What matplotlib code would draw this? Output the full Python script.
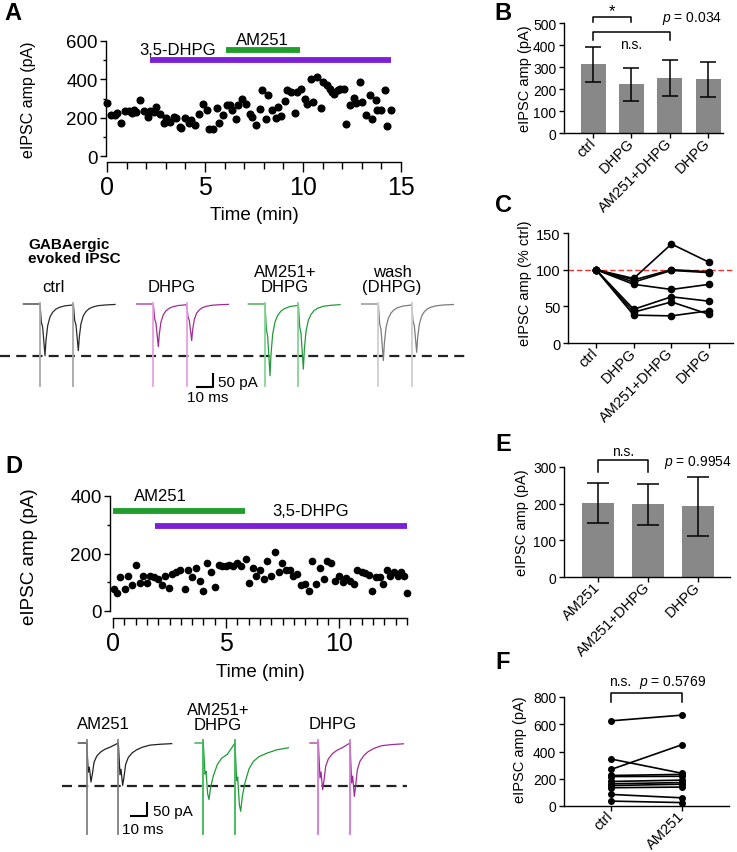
import numpy as np
import matplotlib.pyplot as plt
from matplotlib.ticker import MultipleLocator

plt.rcParams['font.family'] = ['Liberation Sans', 'DejaVu Sans']
plt.rcParams['mathtext.fontset'] = 'custom'
plt.rcParams['mathtext.it'] = 'Liberation Sans:italic'
plt.rcParams['mathtext.rm'] = 'Liberation Sans'
plt.rcParams['axes.linewidth'] = 1.0

# ---- panel A: time course (min, pA)
A_TIME = [0.0, 0.2, 0.4, 0.5, 0.7, 0.9, 1.1, 1.3, 1.4, 1.5, 1.7, 1.9, 2.1, 2.2, 2.4, 2.5, 2.7, 2.9, 3.0, 3.2,
          3.4, 3.5, 3.7, 3.8, 4.0, 4.2, 4.3, 4.5, 4.7, 4.9, 5.1, 5.2, 5.4, 5.6, 5.7, 5.9, 6.1, 6.3, 6.4, 6.6,
          6.7, 6.9, 7.1, 7.3, 7.4, 7.6, 7.8, 7.9, 8.1, 8.2, 8.4, 8.6, 8.7, 8.9, 9.1, 9.2, 9.4, 9.6, 9.7, 9.9,
          10.1, 10.2, 10.4, 10.5, 10.7, 10.9, 11.0, 11.2, 11.4, 11.5, 11.6, 11.8, 11.9, 12.1, 12.2, 12.4, 12.6,
          12.7, 12.9, 13.0, 13.2, 13.4, 13.5, 13.7, 13.8, 14.0, 14.2, 14.3, 14.5]
A_AMP = [278, 212, 214, 222, 170, 233, 233, 226, 238, 231, 292, 233, 205, 233, 229, 256, 217, 170, 200, 177,
         205, 200, 153, 144, 200, 170, 188, 163, 221, 270, 238, 139, 143, 250, 174, 212, 266, 264, 240, 191,
         264, 299, 270, 217, 205, 162, 243, 343, 191, 318, 238, 197, 257, 209, 287, 343, 334, 223, 334, 348,
         296, 270, 400, 283, 414, 252, 388, 370, 348, 334, 325, 345, 348, 351, 165, 264, 304, 278, 386, 283,
         212, 317, 195, 292, 238, 238, 345, 157, 240]
A_DHPG_ON = (2.2, 14.5)
A_AM251_ON = (6.05, 9.85)

# ---- panel D: time course
D_TIME = [0.03, 0.18, 0.32, 0.52, 0.66, 0.84, 1.0, 1.18, 1.33, 1.5, 1.65, 1.8, 1.99, 2.17, 2.32, 2.48, 2.63,
          2.8, 2.98, 3.17, 3.32, 3.5, 3.66, 3.83, 4.0, 4.17, 4.32, 4.5, 4.68, 4.82, 4.99, 5.13, 5.3, 5.49, 5.65,
          5.86, 6.0, 6.17, 6.34, 6.49, 6.67, 6.81, 7.0, 7.15, 7.33, 7.49, 7.67, 7.82, 7.96, 8.14, 8.3, 8.48,
          8.66, 8.81, 8.97, 9.14, 9.32, 9.47, 9.63, 9.81, 9.99, 10.15, 10.32, 10.47, 10.65, 10.81, 10.99,
          11.14, 11.31, 11.46, 11.62, 11.8, 11.95, 12.12, 12.27, 12.43, 12.61, 12.73, 12.86, 13.0]
D_AMP = [77, 63, 118, 77, 123, 89, 160, 98, 123, 98, 123, 118, 112, 91, 123, 80, 129, 137, 141, 77,
         141, 118, 149, 104, 68, 166, 137, 85, 161, 155, 158, 160, 155, 166, 158, 181, 97, 149, 123, 141,
         110, 175, 123, 206, 135, 166, 144, 141, 123, 129, 89, 95, 69, 173, 95, 149, 110, 173, 167, 104,
         121, 100, 114, 103, 95, 143, 135, 131, 126, 71, 118, 118, 95, 143, 123, 137, 123, 137, 123, 62]
D_AM251_ON = (0.0, 5.83)
D_DHPG_ON = (1.84, 13.0)

# ---- panel B / E bars
B_CATS = ['ctrl', 'DHPG', 'AM251+DHPG', 'DHPG']
B_MEAN = [312, 221, 250, 244]
B_SEM = [78, 76, 80, 79]
E_CATS = ['AM251', 'AM251+DHPG', 'DHPG']
E_MEAN = [202, 198, 193]
E_SEM = [55, 57, 81]

# ---- panel C normalized cells (% ctrl)
C_CATS = ['ctrl', 'DHPG', 'AM251+DHPG', 'DHPG']
C_CELLS = [[100, 88, 135, 110],
           [100, 86, 100, 97],
           [100, 83, 99, 96],
           [100, 80, 73, 80],
           [100, 46, 63, 57],
           [100, 42, 56, 39],
           [100, 38, 37, 44]]

# ---- panel F paired
F_CATS = ['ctrl', 'AM251']
F_CTRL = [625, 345, 268, 224, 216, 180, 163, 150, 134, 85, 36]
F_AM251 = [667, 240, 450, 232, 218, 190, 172, 160, 139, 60, 25]

# ---- example traces (ms, pA); IPSC shape
A_SHAPE_MS = [0, 0.8, 1.6, 3.0, 3.6, 4.6, 6.0, 7.6, 9.5, 11.6, 15, 19.5, 25, 32, 40]
A_SHAPE_FRAC = [0, 0.35, 0.45, 1.0, 0.70, 0.42, 0.25, 0.16, 0.10, 0.065, 0.035, 0.02, 0.01, 0.005, 0.0]
D_SHAPE_MS = [0, 1.0, 1.6, 2.6, 3.4, 4.4, 6, 8.4, 11, 14.4, 19, 25, 32, 40]
D_SHAPE_FAST = [0, 0.75, 0.62, 1.0, 0.8, 0.5, 0.34, 0.23, 0.16, 0.1, 0.05, 0.03, 0.015, 0.005]
D_SHAPE_SLOW = [0, 0.55, 0.5, 0.9, 1.0, 0.78, 0.58, 0.38, 0.27, 0.2, 0.15, 0.1, 0.07, 0.05]

A_TRACE_LABELS = ['ctrl', 'DHPG', 'AM251+\nDHPG', 'wash\n(DHPG)']
A_LABEL_X = [53, 172, 285, 392]
A_TRACE_ART_MS = [24, 92, 159, 227]
A_TRACE_P1 = [194, 160, 269, 212]
A_TRACE_P2 = [175, 137, 244, 181]
A_TRACE_COLORS = ['#2a2a2a', '#a02c98', '#239a3a', '#7c7c7c']
A_ART_COLORS = ['#a8a8a8', '#e6a0e2', '#86d494', '#cfcfcf']

D_TRACE_LABELS = ['AM251', 'AM251+\nDHPG', 'DHPG']
D_LABEL_X = [103, 218, 333]
D_TRACE_ART_MS = [52, 122, 191]
D_TRACE_P1 = [146, 212, 175]
D_TRACE_P2 = [159, 256, 200]
D_TRACE_SLOW = [False, True, False]
D_TRACE_COLORS = ['#222222', '#1e9a34', '#a02c98']
D_ART_COLORS = ['#808080', '#3cb854', '#d27ad0']

PURPLE = '#7d1fd6'
GREEN = '#1f9e2c'
BAR_GRAY = '#888888'

W, H = 737, 853
fig = plt.figure(figsize=(W / 100, H / 100), dpi=100)


def px_axes(x0, y0, x1, y1):
    return fig.add_axes([x0 / W, 1 - y1 / H, (x1 - x0) / W, (y1 - y0) / H])


def px_text(x, y, s, **kw):
    kw.setdefault('ha', 'center')
    kw.setdefault('va', 'center')
    fig.text(x / W, 1 - y / H, s, **kw)


def time_axes(ax, xmax, ymax, xminor, left_off, bottom_off):
    for s in ['top', 'right']:
        ax.spines[s].set_visible(False)
    ax.spines['left'].set_position(('outward', left_off))
    ax.spines['bottom'].set_position(('outward', bottom_off))
    ax.set_xlim(0, xmax)
    ax.set_ylim(0, ymax)
    ax.xaxis.set_major_locator(MultipleLocator(5))
    ax.xaxis.set_minor_locator(MultipleLocator(xminor))
    ax.yaxis.set_major_locator(MultipleLocator(200))
    ax.yaxis.set_minor_locator(MultipleLocator(100))
    ax.tick_params(axis='x', which='major', length=7.5, width=1, labelsize=18, pad=2)
    ax.tick_params(axis='x', which='minor', length=5, width=1)
    ax.tick_params(axis='y', which='major', length=4, width=1, labelsize=13.5, pad=2)
    ax.tick_params(axis='y', which='minor', length=2.5, width=1)
    ax.patch.set_alpha(0)


def right_axes(ax, xlim, ylim, ystep, cats):
    for s in ['top', 'right']:
        ax.spines[s].set_visible(False)
    ax.set_xlim(*xlim)
    ax.set_ylim(*ylim)
    ax.yaxis.set_major_locator(MultipleLocator(ystep))
    ax.set_xticks(range(len(cats)))
    ax.set_xticklabels(cats, rotation=45, ha='right', va='center', rotation_mode='anchor')
    ax.tick_params(length=3.5, width=1, labelsize=10, pad=2)
    ax.tick_params(axis='x', pad=2, labelsize=10.5)
    ax.patch.set_alpha(0)


def bracket(ax, x0, x1, y_top, y_leg):
    ax.plot([x0, x0, x1, x1], [y_leg, y_top, y_top, y_leg], color='black', lw=1.1, clip_on=False)


def draw_trace(ax, t_art, p1, p2, gap, pre, post, shape_ms, shape_frac, color, art_color, art_top, art_bot):
    t = [t_art - pre, t_art]
    v = [0, 0]
    for k, (t0, amp) in enumerate([(t_art, p1), (t_art + gap, p2)]):
        limit = gap - 0.3 if k == 0 else post - gap
        for s, f in zip(shape_ms, shape_frac):
            if s <= limit:
                t.append(t0 + s)
                v.append(-amp * f)
    ax.plot(t, v, color=color, lw=0.9, zorder=2)
    for t0 in (t_art, t_art + gap):
        ax.plot([t0, t0], [art_top, art_bot], color=art_color, lw=1.3, zorder=3)


# ================= Panel A time course
ax = px_axes(107, 42, 401, 157)
time_axes(ax, 15, 600, 1, 0.5, 4.5)
ax.plot(A_TIME, A_AMP, 'o', color='black', ms=4.8, clip_on=False)
ax.plot(A_DHPG_ON, [500, 500], color=PURPLE, lw=4.2, solid_capstyle='butt')
ax.plot(A_AM251_ON, [551, 551], color=GREEN, lw=4.2, solid_capstyle='butt')
ax.text(5.55, 558, '3,5-DHPG', ha='right', va='center', fontsize=12)
ax.text(7.95, 607, 'AM251', ha='center', va='center', fontsize=12, clip_on=False)
px_text(254, 215, 'Time (min)', fontsize=13.5)
px_text(28, 100, 'eIPSC amp (pA)', fontsize=11.5, rotation=90)
px_text(13, 14, 'A', fontsize=17, fontweight='bold')

# ================= Panel A traces (1.6667 px per ms, 3.75 pA per px)
ax = px_axes(0, 230, 470, 400)
ax.set_xlim(0, 470 / 1.6667)
ax.set_ylim(-(400 - 305) * 3.75, (305 - 230) * 3.75)
ax.axis('off')
ax.plot([0, 280], [-195, -195], color='#222222', lw=1.6, ls=(0, (4.5, 2.8)), zorder=1)
for i in range(4):
    draw_trace(ax, A_TRACE_ART_MS[i], A_TRACE_P1[i], A_TRACE_P2[i], 20, 10, 50,
               A_SHAPE_MS, A_SHAPE_FRAC, A_TRACE_COLORS[i], A_ART_COLORS[i], 4, -307)
ax.plot([118.2, 127.8, 127.8], [-311, -311, -261], color='black', lw=1.5)
px_text(218, 383, '50 pA', fontsize=11, ha='left')
px_text(187, 398, '10 ms', fontsize=11, ha='left')
px_text(28, 252, 'GABAergic\nevoked IPSC', fontsize=11, fontweight='bold', ha='left', linespacing=0.95)
for lab, x in zip(A_TRACE_LABELS, A_LABEL_X):
    if '\n' in lab:
        px_text(x, 280, lab, fontsize=12, linespacing=0.95)
    else:
        px_text(x, 287, lab, fontsize=12)

# ================= Panel B
ax = px_axes(564, 24, 723, 134)
right_axes(ax, (-0.76, 3.39), (0, 500), 100, B_CATS)
ax.bar(range(4), B_MEAN, width=0.65, color=BAR_GRAY)
ax.errorbar(range(4), B_MEAN, yerr=B_SEM, fmt='none', ecolor='black', elinewidth=1.1, capsize=6, capthick=1.1)
bracket(ax, 0, 1, 527, 505)
bracket(ax, 0, 2, 459, 423)
ax.text(0.5, 555, '*', ha='center', va='center', fontsize=12)
ax.text(1.0, 405, 'n.s.', ha='center', va='center', fontsize=10)
ax.text(2.58, 527, r'$p$ = 0.034', ha='center', va='center', fontsize=10)
px_text(525, 79, 'eIPSC amp (pA)', fontsize=10.5, rotation=90)
px_text(503, 13, 'B', fontsize=17, fontweight='bold')

# ================= Panel C
ax = px_axes(568, 234, 733, 344)
right_axes(ax, (-0.74, 3.63), (0, 150), 50, C_CATS)
ax.tick_params(axis='y', labelsize=10.5)
ax.axhline(100, color='#e8342a', lw=1.0, ls=(0, (4, 2)), zorder=1)
for cell in C_CELLS:
    ax.plot(range(4), cell, '-o', color='black', lw=1.2, ms=4.5, zorder=2)
px_text(525, 283, 'eIPSC amp (% ctrl)', fontsize=10.5, rotation=90)
px_text(503, 206, 'C', fontsize=17, fontweight='bold')

# ================= Panel D time course
ax = px_axes(113, 497, 407, 612)
time_axes(ax, 13, 400, 0.5, 2.2, 5)
ax.plot(D_TIME, D_AMP, 'o', color='black', ms=4.5, clip_on=False)
ax.plot(D_AM251_ON, [348, 348], color=GREEN, lw=4.2, solid_capstyle='butt')
ax.plot(D_DHPG_ON, [296, 296], color=PURPLE, lw=4.2, solid_capstyle='butt')
ax.text(2.1, 400, 'AM251', ha='center', va='center', fontsize=12)
ax.text(8.76, 348, '3,5-DHPG', ha='center', va='center', fontsize=12)
px_text(260, 673, 'Time (min)', fontsize=13.5)
px_text(30, 557, 'eIPSC amp (pA)', fontsize=13.5, rotation=90)
px_text(14, 467, 'D', fontsize=17, fontweight='bold')

# ================= Panel D traces
ax = px_axes(0, 700, 470, 845)
ax.set_xlim(0, 470 / 1.6667)
ax.set_ylim(-(845 - 744) * 3.75, (744 - 700) * 3.75)
ax.axis('off')
ax.plot([37, 244], [-161, -161], color='#222222', lw=1.6, ls=(0, (4.5, 2.8)), zorder=1)
for i in range(3):
    shape = D_SHAPE_SLOW if D_TRACE_SLOW[i] else D_SHAPE_FAST
    draw_trace(ax, D_TRACE_ART_MS[i], D_TRACE_P1[i], D_TRACE_P2[i], 19, 5, 54,
               D_SHAPE_MS, shape, D_TRACE_COLORS[i], D_ART_COLORS[i], 11, -341)
ax.plot([78.6, 88.2, 88.2], [-274, -274, -224], color='black', lw=1.5)
px_text(153, 812, '50 pA', fontsize=11, ha='left')
px_text(122, 830, '10 ms', fontsize=11, ha='left')
for lab, x in zip(D_TRACE_LABELS, D_LABEL_X):
    if '\n' in lab:
        px_text(x, 718, lab, fontsize=12, linespacing=0.95)
    else:
        px_text(x, 725, lab, fontsize=12)

# ================= Panel E
ax = px_axes(564, 468, 730, 578)
right_axes(ax, (-0.68, 2.64), (0, 300), 100, E_CATS)
ax.bar(range(3), E_MEAN, width=0.65, color=BAR_GRAY)
ax.errorbar(range(3), E_MEAN, yerr=E_SEM, fmt='none', ecolor='black', elinewidth=1.1, capsize=8, capthick=1.1)
bracket(ax, 0, 1, 319, 286)
ax.text(0.5, 344, 'n.s.', ha='center', va='center', fontsize=10)
ax.text(2.0, 316, r'$p$ = 0.9954', ha='center', va='center', fontsize=10)
px_text(522, 523, 'eIPSC amp (pA)', fontsize=10.5, rotation=90)
px_text(503, 445, 'E', fontsize=17, fontweight='bold')

# ================= Panel F
ax = px_axes(564, 698, 729, 807)
right_axes(ax, (-0.66, 1.66), (0, 800), 200, F_CATS)
for a, b in zip(F_CTRL, F_AM251):
    ax.plot([0, 1], [a, b], '-o', color='black', lw=1.2, ms=4, clip_on=False)
bracket(ax, 0, 1, 829, 763)
ax.text(0.13, 917, 'n.s.', ha='center', va='center', fontsize=10)
ax.text(0.87, 917, r'$p$ = 0.5769', ha='center', va='center', fontsize=10)
px_text(520, 750, 'eIPSC amp (pA)', fontsize=10.5, rotation=90)
px_text(503, 663, 'F', fontsize=17, fontweight='bold')

fig.savefig('out.png', dpi=100)
